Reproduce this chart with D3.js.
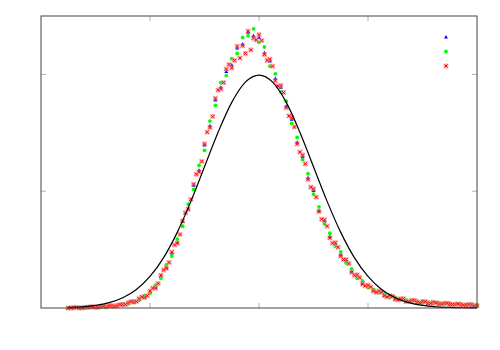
<!DOCTYPE html>
<html>
<head>
<meta charset="utf-8">
<script src="https://cdn.jsdelivr.net/npm/d3@7"></script>
<style>
  body { margin: 0; background: #fff; }
  svg { display: block; }
</style>
</head>
<body>
<svg width="500" height="350"></svg>
<script>
// sample grid (shared by blue, green and the first half of red)
let xA = [-3.5, -3.4, -3.3, -3.2, -3.1, -3.0, -2.9, -2.8, -2.7, -2.6, -2.5, -2.4, -2.3, -2.2, -2.1,
    -2.0, -1.9, -1.8, -1.7, -1.6, -1.5, -1.4, -1.3, -1.2, -1.1, -1.0, -0.9, -0.8, -0.7, -0.6, -0.5,
    -0.4, -0.3, -0.2, -0.1, 0.0, 0.1, 0.2, 0.3, 0.4, 0.5, 0.6, 0.7, 0.8, 0.9, 1.0, 1.1, 1.2, 1.3,
    1.4, 1.5, 1.6, 1.7, 1.8, 1.9, 2.0, 2.1, 2.2, 2.3, 2.4, 2.5, 2.6, 2.7, 2.8, 2.9, 3.0, 3.1, 3.2,
    3.3, 3.4, 3.5, 3.6, 3.7, 3.8, 3.9, 4.0]
// second red grid, in between
let xB = [-3.45, -3.35, -3.25, -3.15, -3.05, -2.95, -2.85, -2.75, -2.65, -2.55, -2.45, -2.35, -2.25,
    -2.15, -2.05, -1.95, -1.85, -1.75, -1.65, -1.55, -1.45, -1.35, -1.25, -1.15, -1.05, -0.95, -0.85,
    -0.75, -0.65, -0.55, -0.45, -0.35, -0.25, -0.15, -0.05, 0.05, 0.15, 0.25, 0.35, 0.45, 0.55, 0.65,
    0.75, 0.85, 0.95, 1.05, 1.15, 1.25, 1.35, 1.45, 1.55, 1.65, 1.75, 1.85, 1.95, 2.05, 2.15, 2.25,
    2.35, 2.45, 2.55, 2.65, 2.75, 2.85, 2.95, 3.05, 3.15, 3.25, 3.35, 3.45, 3.55, 3.65, 3.75, 3.85, 3.95]

let blueY = [0.000, 0.000, 0.000, 0.001, 0.001, 0.001, 0.002, 0.003, 0.003, 0.005, 0.005, 0.009, 0.010,
    0.015, 0.019, 0.028, 0.035, 0.055, 0.069, 0.094, 0.112, 0.148, 0.170, 0.210, 0.236, 0.279, 0.312,
    0.356, 0.378, 0.405, 0.416, 0.445, 0.452, 0.472, 0.466, 0.463, 0.437, 0.423, 0.393, 0.378, 0.346,
    0.323, 0.284, 0.259, 0.223, 0.201, 0.167, 0.149, 0.122, 0.110, 0.091, 0.081, 0.063, 0.055, 0.042,
    0.038, 0.030, 0.028, 0.022, 0.020, 0.016, 0.015, 0.012, 0.013, 0.010, 0.011, 0.008, 0.009, 0.007,
    0.008, 0.006, 0.007, 0.005, 0.006, 0.004, 0.005]

let greenY = [0.000, 0.000, 0.001, 0.000, 0.001, 0.002, 0.002, 0.002, 0.004, 0.004, 0.007, 0.007, 0.012,
    0.013, 0.021, 0.025, 0.039, 0.051, 0.074, 0.089, 0.118, 0.140, 0.178, 0.203, 0.244, 0.270, 0.320,
    0.347, 0.386, 0.398, 0.427, 0.436, 0.463, 0.466, 0.478, 0.455, 0.447, 0.414, 0.401, 0.370, 0.354,
    0.316, 0.292, 0.254, 0.230, 0.195, 0.173, 0.144, 0.128, 0.106, 0.096, 0.077, 0.067, 0.051, 0.046,
    0.035, 0.032, 0.026, 0.024, 0.018, 0.018, 0.014, 0.014, 0.011, 0.012, 0.009, 0.010, 0.008, 0.009,
    0.007, 0.008, 0.006, 0.007, 0.005, 0.006, 0.004]

let redYA = [0.000, 0.001, 0.000, 0.001, 0.002, 0.001, 0.003, 0.002, 0.004, 0.004, 0.006, 0.009, 0.010,
    0.016, 0.018, 0.029, 0.034, 0.056, 0.068, 0.096, 0.111, 0.149, 0.169, 0.212, 0.233, 0.281, 0.309,
    0.359, 0.375, 0.409, 0.411, 0.448, 0.449, 0.474, 0.462, 0.468, 0.434, 0.426, 0.389, 0.381, 0.343,
    0.326, 0.281, 0.262, 0.220, 0.204, 0.165, 0.151, 0.120, 0.112, 0.089, 0.083, 0.061, 0.057, 0.041,
    0.039, 0.029, 0.029, 0.021, 0.021, 0.015, 0.016, 0.011, 0.013, 0.010, 0.011, 0.008, 0.010, 0.007,
    0.008, 0.007, 0.006, 0.006, 0.005, 0.006, 0.004]

let redYB = [0.000, 0.001, 0.000, 0.001, 0.002, 0.001, 0.003, 0.004, 0.003, 0.006, 0.006, 0.011, 0.011,
    0.019, 0.021, 0.034, 0.042, 0.065, 0.078, 0.108, 0.126, 0.163, 0.186, 0.229, 0.251, 0.301, 0.328,
    0.373, 0.386, 0.417, 0.424, 0.428, 0.436, 0.442, 0.459, 0.458, 0.424, 0.414, 0.380, 0.369, 0.329,
    0.310, 0.267, 0.247, 0.207, 0.190, 0.152, 0.140, 0.111, 0.104, 0.083, 0.076, 0.056, 0.052, 0.038,
    0.036, 0.027, 0.027, 0.019, 0.020, 0.014, 0.016, 0.011, 0.013, 0.009, 0.011, 0.008, 0.009, 0.007,
    0.008, 0.006, 0.007, 0.005, 0.006, 0.004]

// the black reference curve, read at quarter steps
let curveX = [-3.5, -3.25, -3.0, -2.75, -2.5, -2.25, -2.0, -1.75, -1.5, -1.25, -1.0, -0.75, -0.5, -0.25,
    0, 0.25, 0.5, 0.75, 1.0, 1.25, 1.5, 1.75, 2.0, 2.25, 2.5, 2.75, 3.0, 3.25, 3.5, 3.75, 4.0]
let curveY = [0.0009, 0.0020, 0.0044, 0.0091, 0.0175, 0.0317, 0.0540, 0.0863, 0.1295, 0.1826, 0.2420,
    0.3011, 0.3521, 0.3867, 0.3989, 0.3867, 0.3521, 0.3011, 0.2420, 0.1826, 0.1295, 0.0863, 0.0540,
    0.0317, 0.0175, 0.0091, 0.0044, 0.0020, 0.0009, 0.0004, 0.0001]

let xTicks = [-2, 0, 2]
let yTicks = [0.2, 0.4]

let svg = d3.select('svg')
let margin = {left: 41, right: 23, top: 16, bottom: 42}
let w = 500 - margin.left - margin.right
let h = 350 - margin.top - margin.bottom

let x = d3.scaleLinear().domain([-4, 4]).range([0, w])
let y = d3.scaleLinear().domain([0, 0.5]).range([h, 0])

let g = svg.append('g').attr('transform', `translate(${margin.left},${margin.top})`)

// inward gray ticks on all four sides
let tickColor = '#b0b0b0'
let tl = 5
xTicks.forEach(t => {
    g.append('line').attr('x1', x(t)).attr('x2', x(t)).attr('y1', h).attr('y2', h - tl)
        .attr('stroke', tickColor)
    g.append('line').attr('x1', x(t)).attr('x2', x(t)).attr('y1', 0).attr('y2', tl)
        .attr('stroke', tickColor)
})
yTicks.forEach(t => {
    g.append('line').attr('x1', 0).attr('x2', tl).attr('y1', y(t)).attr('y2', y(t))
        .attr('stroke', tickColor)
    g.append('line').attr('x1', w).attr('x2', w - tl).attr('y1', y(t)).attr('y2', y(t))
        .attr('stroke', tickColor)
})

let series = [
    {name: 'blue', color: '#0000ff', shape: 'tri', pts: xA.map((v, i) => [v, blueY[i]])},
    {name: 'green', color: '#00ff00', shape: 'circle', pts: xA.map((v, i) => [v, greenY[i]])},
    {name: 'red', color: '#ff0000', shape: 'cross',
        pts: xA.map((v, i) => [v, redYA[i]]).concat(xB.map((v, i) => [v, redYB[i]]))}
]

function drawMarker(sel, s) {
    if (s.shape === 'tri') {
        sel.append('path').attr('d', 'M0,-2L2,1.5L-2,1.5Z').attr('fill', s.color)
    } else if (s.shape === 'circle') {
        sel.append('circle').attr('r', 1.9).attr('fill', s.color)
    } else {
        sel.append('rect').attr('x', -2.5).attr('y', -2.5).attr('width', 5).attr('height', 5)
            .attr('fill', '#ff8080').attr('opacity', 0.55)
        sel.append('path').attr('d', 'M-1.6,-1.6L1.6,1.6M-1.6,1.6L1.6,-1.6')
            .attr('stroke', s.color).attr('stroke-width', 1).attr('fill', 'none')
    }
}

series.forEach(s => {
    let pg = g.append('g').attr('class', s.name)
    pg.selectAll('g')
        .data(s.pts)
        .enter().append('g')
        .attr('transform', d => `translate(${x(d[0])},${y(d[1])})`)
        .each(function () {
            drawMarker(d3.select(this), s)
        })
})

let line = d3.line()
    .x(d => x(d[0]))
    .y(d => y(d[1]))
    .curve(d3.curveMonotoneX)

g.append('path')
    .datum(curveX.map((v, i) => [v, curveY[i]]))
    .attr('d', line)
    .attr('fill', 'none')
    .attr('stroke', '#000')
    .attr('stroke-width', 1.2)

// frame
g.append('rect').attr('width', w).attr('height', h)
    .attr('fill', 'none').attr('stroke', '#444').attr('stroke-width', 1)

// legend: markers only, no labels
let legend = g.append('g')
series.forEach((s, i) => {
    let lg = legend.append('g').attr('transform', `translate(${405},${21 + i * 14.5})`)
    drawMarker(lg, s)
})
</script>
</body>
</html>
